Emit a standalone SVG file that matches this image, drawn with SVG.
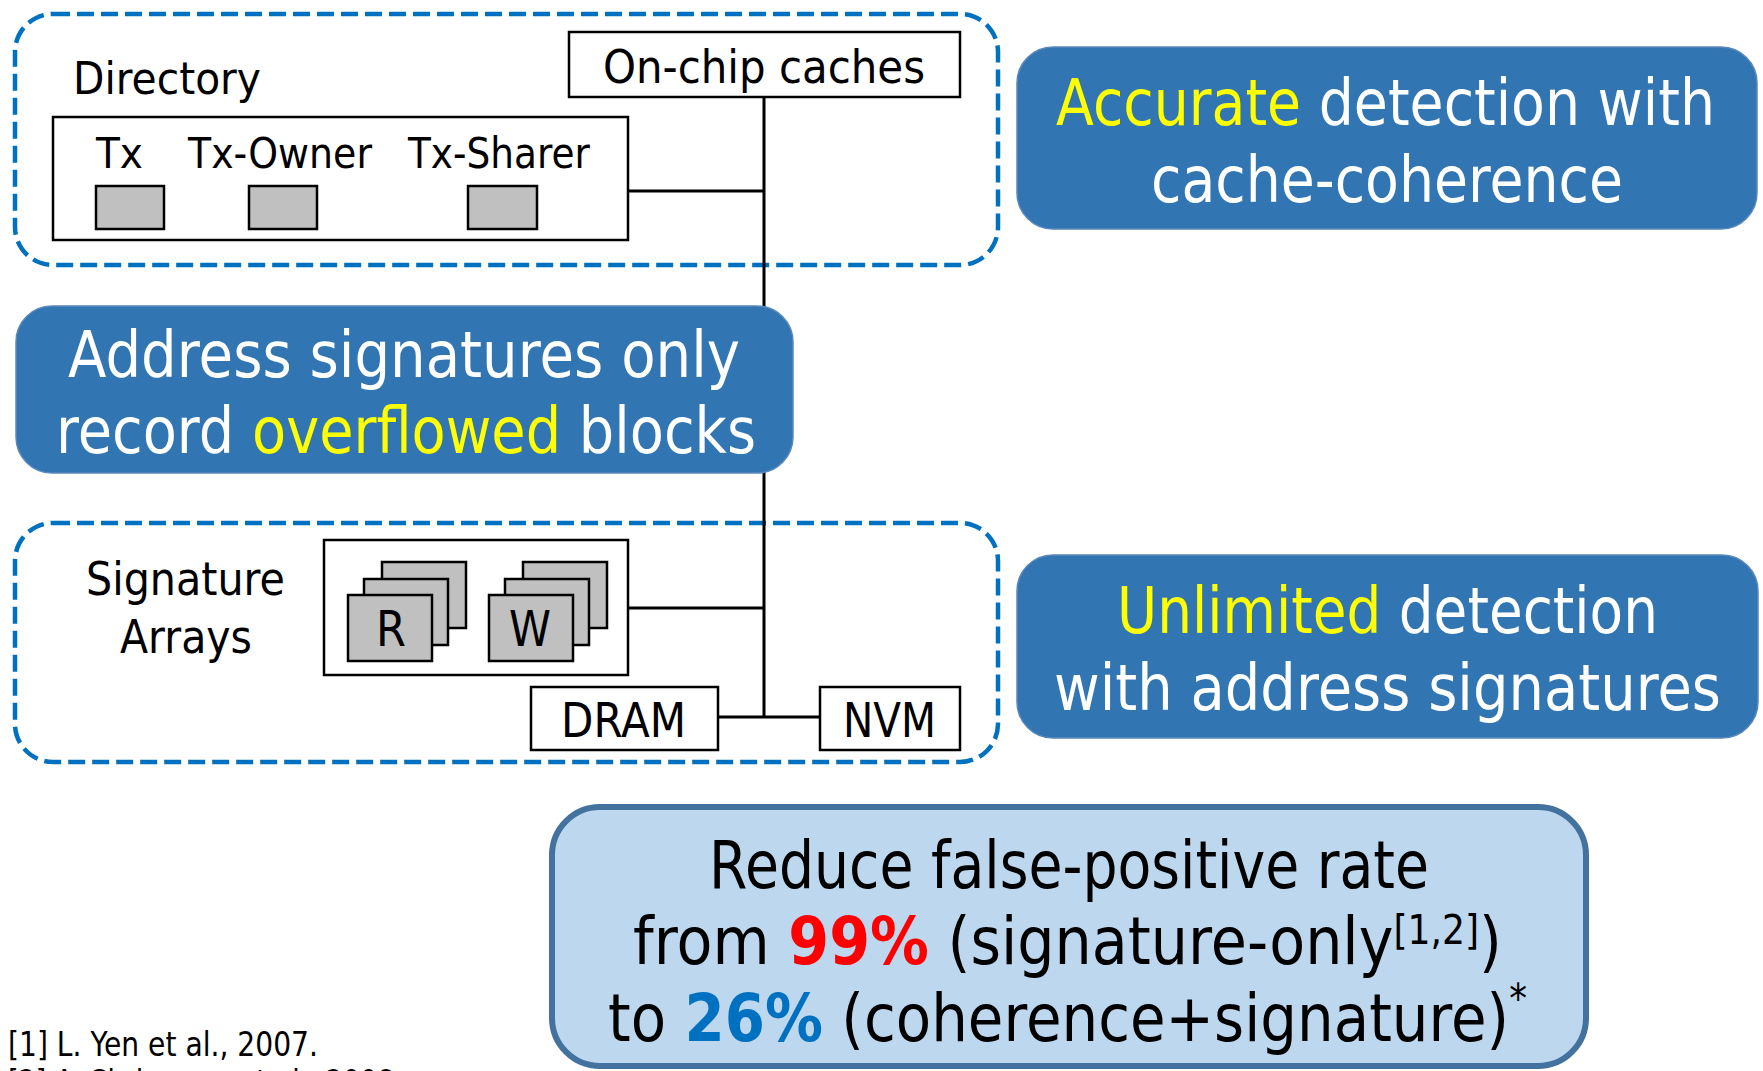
<svg xmlns="http://www.w3.org/2000/svg" width="1763" height="1071" viewBox="0 0 1763 1071">
<style>
text{font-family:"DejaVu Sans","Liberation Sans",sans-serif;fill:#000}
.dash{fill:none;stroke:#0070C0;stroke-width:4.5;stroke-dasharray:17 7}
.box{fill:#fff;stroke:#000;stroke-width:2.5}
.sq{fill:#C0C0C0;stroke:#000;stroke-width:2.5}
.blue{fill:#3175B3;stroke:#5A88BC;stroke-width:1.5}
.big{font-size:64px}
.w{fill:#fff}
.y{fill:#FFFF00}
.wire{stroke:#000;stroke-width:3;fill:none}
.b{font-weight:bold}
</style>
<g id="coherence-region"><rect class="dash" x="15" y="14" width="983" height="251" rx="38"/></g>
<g id="signature-region"><rect class="dash" x="15" y="523" width="983" height="239" rx="38"/></g>
<g id="connectors">
<line class="wire" x1="764" y1="97" x2="764" y2="717"/>
<line class="wire" x1="628" y1="191" x2="764" y2="191"/>
<line class="wire" x1="628" y1="608" x2="764" y2="608"/>
<line class="wire" x1="717" y1="717" x2="820" y2="717"/>
</g>
<g id="onchip-caches">
<rect class="box" x="569" y="32" width="391" height="65"/>
<text x="603" y="83" font-size="47" textLength="322" lengthAdjust="spacingAndGlyphs">On-chip caches</text>
</g>
<g id="directory">
<text x="73" y="94" font-size="44" textLength="188" lengthAdjust="spacingAndGlyphs">Directory</text>
<rect class="box" x="53" y="117" width="575" height="123"/>
<text x="96" y="168" font-size="42" textLength="47" lengthAdjust="spacingAndGlyphs">Tx</text>
<text x="188" y="168" font-size="42" textLength="184" lengthAdjust="spacingAndGlyphs">Tx-Owner</text>
<text x="408" y="168" font-size="42" textLength="182" lengthAdjust="spacingAndGlyphs">Tx-Sharer</text>
<rect class="sq" x="96" y="186" width="68" height="43"/>
<rect class="sq" x="249" y="186" width="68" height="43"/>
<rect class="sq" x="468" y="186" width="69" height="43"/>
</g>
<g id="note-accurate">
<rect class="blue" x="1017" y="47" width="740" height="182" rx="36"/>
<text class="big w" x="1056" y="125" textLength="659" lengthAdjust="spacingAndGlyphs"><tspan class="y">Accurate</tspan> detection with</text>
<text class="big w" x="1151" y="202" textLength="472" lengthAdjust="spacingAndGlyphs">cache-coherence</text>
</g>
<g id="note-address">
<rect class="blue" x="16" y="306" width="777" height="167" rx="36"/>
<text class="big w" x="68" y="377" textLength="672" lengthAdjust="spacingAndGlyphs">Address signatures only</text>
<text class="big w" x="56" y="453" textLength="700" lengthAdjust="spacingAndGlyphs">record <tspan class="y">overflowed</tspan> blocks</text>
</g>
<g id="signature-arrays">
<text x="86" y="595" font-size="46" textLength="199" lengthAdjust="spacingAndGlyphs">Signature</text>
<text x="120" y="653" font-size="46" textLength="132" lengthAdjust="spacingAndGlyphs">Arrays</text>
<rect class="box" x="324" y="540" width="304" height="135"/>
<rect class="sq" x="382" y="562" width="84" height="66"/>
<rect class="sq" x="364" y="579" width="84" height="66"/>
<rect class="sq" x="348" y="595" width="84" height="66"/>
<text x="376" y="646" font-size="50" textLength="30" lengthAdjust="spacingAndGlyphs">R</text>
<rect class="sq" x="523" y="562" width="84" height="66"/>
<rect class="sq" x="505" y="579" width="84" height="66"/>
<rect class="sq" x="489" y="595" width="84" height="66"/>
<text x="509" y="646" font-size="50" textLength="42" lengthAdjust="spacingAndGlyphs">W</text>
</g>
<g id="dram">
<rect class="box" x="531" y="687" width="187" height="63"/>
<text x="561" y="737" font-size="48" textLength="125" lengthAdjust="spacingAndGlyphs">DRAM</text>
</g>
<g id="nvm">
<rect class="box" x="820" y="687" width="140" height="63"/>
<text x="843" y="737" font-size="48" textLength="93" lengthAdjust="spacingAndGlyphs">NVM</text>
</g>
<g id="note-unlimited">
<rect class="blue" x="1017" y="555" width="741" height="183" rx="36"/>
<text class="big w" x="1117" y="633" textLength="541" lengthAdjust="spacingAndGlyphs"><tspan class="y">Unlimited</tspan> detection</text>
<text class="big w" x="1054" y="710" textLength="667" lengthAdjust="spacingAndGlyphs">with address signatures</text>
</g>
<g id="result">
<rect x="552" y="807" width="1034" height="259" rx="48" fill="#BDD7EE" stroke="#43729F" stroke-width="6"/>
<text x="709" y="888" font-size="65" textLength="720" lengthAdjust="spacingAndGlyphs">Reduce false-positive rate</text>
<text x="633" y="964" font-size="65" textLength="869" lengthAdjust="spacingAndGlyphs">from <tspan class="b" fill="#FF0000">99%</tspan> (signature-only<tspan font-size="40" dy="-20">[1,2]</tspan><tspan dy="20">)</tspan></text>
<text x="608" y="1041" font-size="65" textLength="919" lengthAdjust="spacingAndGlyphs">to <tspan class="b" fill="#0070C0">26%</tspan> (coherence+signature)<tspan font-size="40" dy="-28">*</tspan></text>
</g>
<g id="footnotes">
<text x="8" y="1056" font-size="34" textLength="310" lengthAdjust="spacingAndGlyphs">[1] L. Yen et al., 2007.</text>
<text x="8" y="1094" font-size="34" textLength="395" lengthAdjust="spacingAndGlyphs">[2] A. Shriraman et al., 2008.</text>
</g>
</svg>
